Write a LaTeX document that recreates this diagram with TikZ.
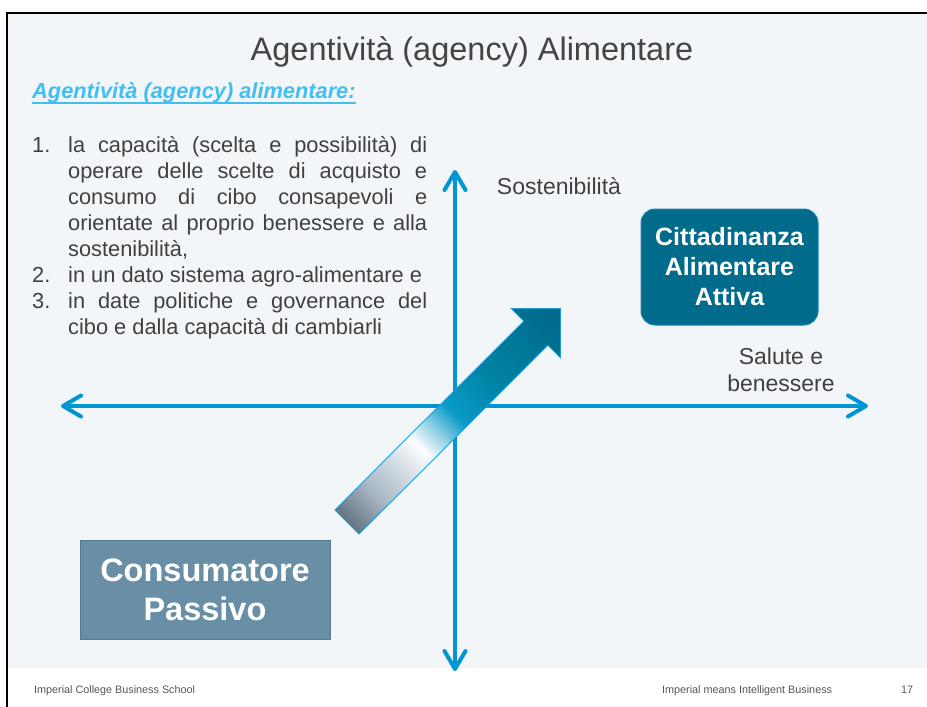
\documentclass[tikz,border=0pt]{standalone}
\usepackage{fontspec}
\setmainfont{Liberation Sans}
\usetikzlibrary{arrows.meta,positioning}

\definecolor{slidebg}{RGB}{243,246,248}
\definecolor{axisblue}{RGB}{0,150,212}
\definecolor{titlegray}{RGB}{68,68,70}
\definecolor{textgray}{RGB}{64,64,66}
\definecolor{subblue}{RGB}{66,190,240}
\definecolor{activeteal}{RGB}{0,107,138}
\definecolor{activeedge}{RGB}{20,135,185}
\definecolor{passiveblue}{RGB}{104,143,166}
\definecolor{footgray}{RGB}{85,85,85}
\definecolor{arrowedge}{RGB}{30,158,214}
% colours along the big arrow, from base to tip
\definecolor{shA}{RGB}{70,88,104}
\definecolor{shB}{RGB}{170,184,195}
\definecolor{shC}{RGB}{215,223,230}
\definecolor{shD}{RGB}{252,253,254}
\definecolor{shE}{RGB}{150,210,230}
\definecolor{shF}{RGB}{10,155,200}
\definecolor{shG}{RGB}{0,130,165}
\definecolor{shH}{RGB}{0,104,135}
\pgfdeclarehorizontalshading{agencyshade}{100bp}{color(0bp)=(shA); color(14.6bp)=(shA); color(27.3bp)=(shB); color(35.8bp)=(shC); color(41.5bp)=(shD); color(46.4bp)=(shE); color(52.1bp)=(shF); color(64.1bp)=(shG); color(85.3bp)=(shH); color(100bp)=(shH)}

\begin{document}
\begin{tikzpicture}[
	x = 1pt, y = -1pt, % pixel grid, origin top left
	> = {Straight Barb[length=18pt, width=21pt, line cap=round, line join=round]}, % axis tips
	X/.style={color=axisblue, line width=4pt, <->}, % axes
	L/.style={inner sep=0pt, text=textgray, align=center, font=\fontsize{23}{27}\selectfont}, % axis labels
	T/.style={inner sep=0pt, text=textgray, align=justify, font=\fontsize{21.8}{26}\selectfont}, % list
	C/.style={rounded corners=14pt, fill=activeteal, draw=activeedge, line width=1pt, inner sep=0pt, text=white, align=center, font=\bfseries\fontsize{25}{30}\selectfont}, %active box
	P/.style={fill=passiveblue, draw=passiveblue!85!black, line width=0.6pt, inner sep=0pt, text=white, align=center, font=\bfseries\fontsize{32.5}{39}\selectfont}, %passive box
	F/.style={inner sep=0pt, text=footgray, font=\fontsize{10.8}{13}\selectfont, anchor=base west}, % footer
	]
	\useasboundingbox (0,0) rectangle (927,707);

	% Slide background and frame
	\fill[slidebg] (7,13) rectangle (927,668);
	\draw[line width=2.3pt] (927,13) -- (7,13) -- (7,707);

	% Texts
	\node[inner sep=0pt, text=titlegray, font=\fontsize{32.5}{39}\selectfont, anchor=base] (title) at (472,60) {Agentività (agency) Alimentare};
	\node[inner sep=0pt, text=subblue, font=\bfseries\itshape\fontsize{21.8}{26}\selectfont, anchor=base west] (subtitle) at (32,98) {Agentività (agency) alimentare:};
	\node[T, text width=395pt, anchor=north west] (list) at (32,136) {\tolerance=10000\hbadness=10000
		\noindent\hangindent=36pt\hangafter=1\makebox[36pt][l]{1.}la capacità (scelta e possibilità) di\linebreak operare delle scelte di acquisto e\linebreak consumo di cibo consapevoli e\linebreak orientate al proprio benessere e alla\linebreak sostenibilità,\par
		\noindent\hangindent=36pt\hangafter=1\makebox[36pt][l]{2.}in un dato sistema agro-alimentare e\par
		\noindent\hangindent=36pt\hangafter=1\makebox[36pt][l]{3.}in date politiche e governance del\linebreak cibo e dalla capacità di cambiarli\par};

	% Axes
	\coordinate (N) at (455,170);
	\coordinate (S) at (455,671);
	\coordinate (W) at (61,406);
	\coordinate (E) at (868,406);
	\path[X] (S) edge (N);
	\path[X] (W) edge (E);

	\node[L, anchor=base] (sost) at (559,194) {Sostenibilità};
	\node[L] (salute) at (781,370) {Salute e\\benessere};

	% Big arrow from passive to active
	\begin{scope}[shift={(347,522)}, rotate=45]
		\shadedraw[shading=agencyshade, shading angle=45, draw=arrowedge, line width=0.8pt]
			(0,-17) -- (267,-17) -- (267,-35) -- (302,0) -- (267,35) -- (267,17) -- (0,17) -- cycle;
	\end{scope}

	% Boxes
	\node[C, minimum width=177pt, minimum height=116pt] (active) at (729.5,267) {Cittadinanza\\Alimentare\\Attiva};
	\node[P, minimum width=250pt, minimum height=99pt] (passive) at (205,589.5) {Consumatore\\Passivo};

	% Underline of the subtitle
	\draw[subblue, line width=1.6pt] (subtitle.south west) -- (subtitle.south east);

	% Footer
	\node[F] (school) at (34,693) {Imperial College Business School};
	\node[F] (motto) at (662,693) {Imperial means Intelligent Business};
	\node[F] (page) at (901,693) {17};

\end{tikzpicture}
\end{document}
